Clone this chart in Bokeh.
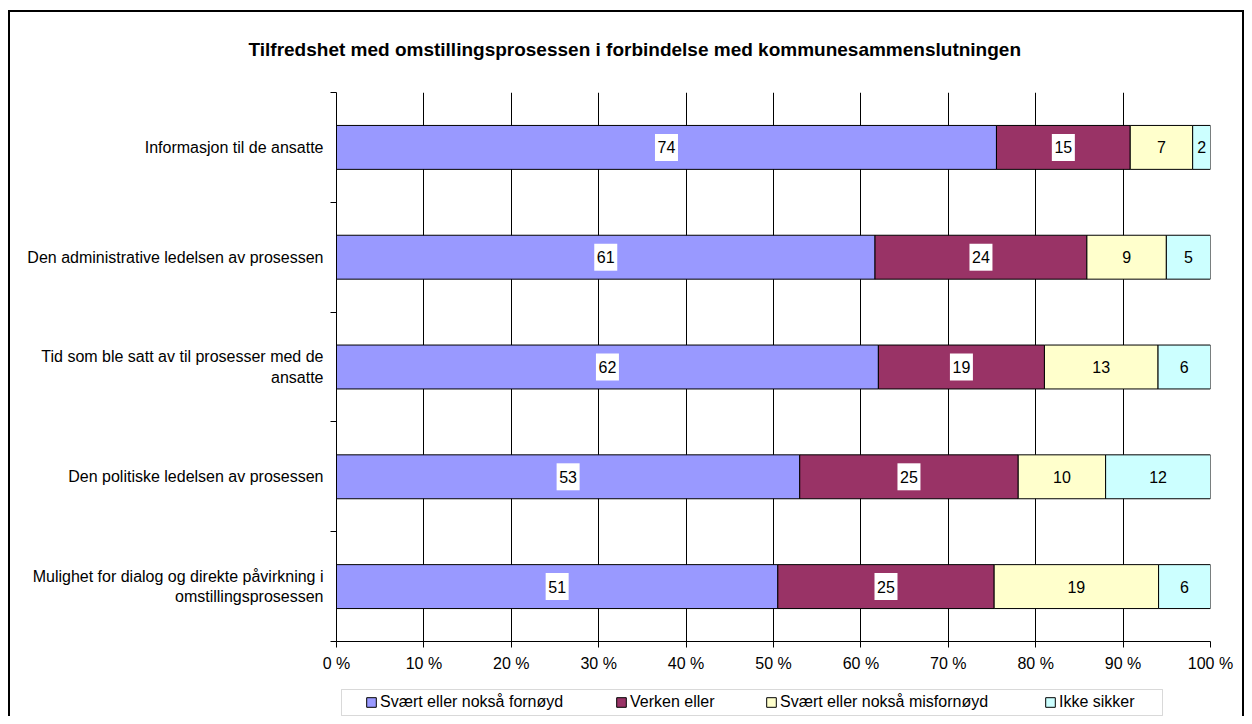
from bokeh.plotting import figure
from bokeh.layouts import column
from bokeh.models import (ColumnDataSource, FixedTicker, PrintfTickFormatter, Range1d,
                          LabelSet, Legend, LegendItem, Title, BoxAnnotation)
from bokeh.core.properties import value
from bokeh.embed import file_html
from bokeh.resources import INLINE

categories = [
    "Informasjon til de ansatte",
    "Den administrative ledelsen av prosessen",
    "Tid som ble satt av til prosesser med de\nansatte",
    "Den politiske ledelsen av prosessen",
    "Mulighet for dialog og direkte påvirkning i\nomstillingsprosessen",
]
series_names = ["Svært eller nokså fornøyd", "Verken eller", "Svært eller nokså misfornøyd", "Ikke sikker"]
fornoyd = [74, 61, 62, 53, 51]
verken = [15, 24, 19, 25, 25]
misfornoyd = [7, 9, 13, 10, 19]
ikke_sikker = [2, 5, 6, 12, 6]
colors = ["#9999FF", "#993366", "#FFFFCC", "#CCFFFF"]
x_ticks = [0, 10, 20, 30, 40, 50, 60, 70, 80, 90, 100]
title_text = "Tilfredshet med omstillingsprosessen i forbindelse med kommunesammenslutningen"

FONT = "Liberation Sans"
series = [fornoyd, verken, misfornoyd, ikke_sikker]
n = len(categories)
ypos = [n - i - 0.5 for i in range(n)]
totals = [sum(s[i] for s in series) for i in range(n)]

W, H1, H2 = 1244, 680, 36
FL, FR = 336, 34  # frame borders (left, right) shared by both stacked figures


def frame_lines(h, top):
    if top:
        return {
            "background-color": "white",
            "background-image": ", ".join(["linear-gradient(#000, #000)"] * 3),
            "background-size": "2px %dpx, %dpx 2px, 2px %dpx" % (h, W - 8, h),
            "background-position": "8px 10px, 8px 10px, %dpx 10px" % (W - 2),
            "background-repeat": "no-repeat",
        }
    return {
        "background-color": "white",
        "background-image": ", ".join(["linear-gradient(#000, #000)"] * 2),
        "background-size": "2px %dpx, 2px %dpx" % (h, h),
        "background-position": "8px 0px, %dpx 0px" % (W - 2),
        "background-repeat": "no-repeat",
    }


p = figure(width=W, height=H1, output_backend="svg", toolbar_location=None,
           x_range=Range1d(0, 100), y_range=Range1d(0, n),
           min_border_left=FL, min_border_right=FR, min_border_top=92, min_border_bottom=39)
p.outline_line_color = None
p.background_fill_color = "white"
p.border_fill_color = None
p.styles = frame_lines(H1, True)

p.xgrid.ticker = FixedTicker(ticks=x_ticks)
p.xgrid.grid_line_color = "#000000"
p.xgrid.grid_line_width = 1
p.ygrid.grid_line_color = None

p.xaxis.ticker = FixedTicker(ticks=x_ticks)
p.xaxis.formatter = PrintfTickFormatter(format="%d %%")
p.xaxis.axis_line_color = "#000000"
p.xaxis.major_tick_line_color = "#000000"
p.xaxis.major_tick_out = 6
p.xaxis.major_tick_in = 0
p.xaxis.minor_tick_line_color = None
p.xaxis.major_label_standoff = 7
p.xaxis.major_label_text_font = FONT
p.xaxis.major_label_text_font_size = "16px"
p.xaxis.major_label_text_color = "#000000"

p.yaxis.ticker = FixedTicker(ticks=ypos, minor_ticks=list(range(n + 1)))
p.yaxis.major_label_overrides = {y: c for y, c in zip(ypos, categories)}
p.yaxis.axis_line_color = "#000000"
p.yaxis.major_tick_out = 0
p.yaxis.major_tick_in = 0
p.yaxis.minor_tick_out = 6
p.yaxis.minor_tick_in = 0
p.yaxis.minor_tick_line_color = "#000000"
p.yaxis.major_label_standoff = 7
p.yaxis.major_label_text_font = FONT
p.yaxis.major_label_text_font_size = "16px"
p.yaxis.major_label_text_color = "#000000"

left = [0.0] * n
for k, (vals, name, col) in enumerate(zip(series, series_names, colors)):
    pct = [100.0 * v / t for v, t in zip(vals, totals)]
    right = [l + q for l, q in zip(left, pct)]
    src = ColumnDataSource(dict(y=ypos, left=left, right=right,
                                mid=[(l + r) / 2 for l, r in zip(left, right)],
                                lab=[str(v) for v in vals]))
    p.hbar(y="y", left="left", right="right", height=0.4, source=src,
           fill_color=col, line_color="#000000", line_width=1)
    if k < 2:
        p.rect(x="mid", y="y", width=23, height=27, width_units="screen",
               height_units="screen", source=src, fill_color="white", line_color=None)
    ls = LabelSet(x="mid", y="y", text="lab", source=src, text_align="center",
                  text_baseline="middle", text_font=value(FONT), text_font_size="16px",
                  text_color="#000000")
    p.add_layout(ls)
    left = right

p.title = Title(text=title_text, align="left", offset=-88,
                text_font=FONT, text_font_size="19px", text_font_style="bold",
                text_color="#000000", standoff=66)

# legend strip below the chart; its ranges are in pixels so the box can be placed
q = figure(width=W, height=H2, output_backend="svg", toolbar_location=None,
           x_range=Range1d(FL, W - FR), y_range=Range1d(0, H2),
           min_border_left=FL, min_border_right=FR, min_border_top=0, min_border_bottom=0)
q.axis.visible = False
q.grid.visible = False
q.outline_line_color = None
q.background_fill_color = "white"
q.border_fill_color = None
q.styles = frame_lines(H2, False)

q.add_layout(BoxAnnotation(left=341, right=1162, bottom=1, top=27, fill_alpha=0,
                           line_color="#808080", line_width=1))

swatch_x = [365, 615, 765, 1044]
for name, col, sx in zip(series_names, colors, swatch_x):
    proxy = q.hbar(y=[-100], left=[0], right=[1], height=1, fill_color=col,
                   line_color="#000000", line_width=1)
    lg = Legend(items=[LegendItem(label=name, renderers=[proxy])],
                location=(sx - FL, 4), orientation="horizontal",
                label_text_font=FONT, label_text_font_size="16px", label_text_color="#000000",
                border_line_color=None, background_fill_alpha=0,
                glyph_width=12, glyph_height=12, padding=0, margin=0,
                label_standoff=3, label_height=20)
    q.add_layout(lg)

open("out.html", "w").write(file_html(column(p, q, spacing=0), INLINE))
